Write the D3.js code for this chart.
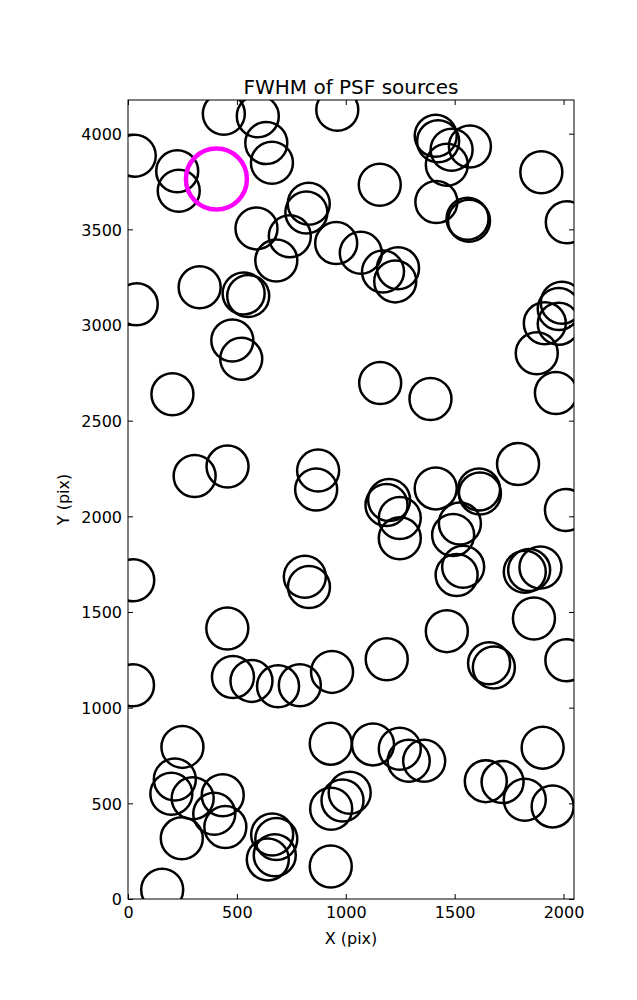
<!DOCTYPE html>
<html>
<head>
<meta charset="utf-8">
<script src="https://cdn.jsdelivr.net/npm/d3@7"></script>
<style>
  body { margin: 0; background: #fff; }
  text { font-family: "DejaVu Sans", sans-serif; fill: #000; }
</style>
</head>
<body>
<svg id="chart" width="637" height="1000"></svg>
<script>
// Source positions (pixel coordinates on detector)
const srcX = [31,226,233,440,596,635,661,830,819,590,743,681,956,1069,329,531,552,40,479,520,
  961,1413,1424,1570,1486,1464,1156,1416,1559,1566,1898,2015,1171,1240,1227,1992,1978,1914,1978,1877,
  1158,204,306,457,873,864,24,812,831,456,1389,1965,1791,2011,1413,1612,1616,1199,1187,1248,
  1248,1524,1493,1539,1509,1822,1842,1894,1864,1464,1188,2013,23,482,567,689,789,937,250,931,
  215,199,297,435,396,447,247,662,681,642,674,157,931,933,985,1018,1658,1680,1125,1248,
  1289,1360,1904,1643,1720,1822,1950];
const srcY = [3885,3804,3702,4104,4091,3951,3848,3634,3588,3505,3464,3337,3428,3377,3197,3165,3152,3108,2919,2823,
  4125,3989,3960,3933,3916,3838,3733,3643,3555,3545,3798,3537,3279,3297,3228,3116,3084,3009,3006,2852,
  2697,2638,2211,2260,2239,2140,1666,1684,1631,1414,2613,2645,2273,2033,2146,2140,2119,2085,2059,1991,
  1885,1963,1902,1736,1693,1710,1719,1733,1466,1400,1253,1248,1117,1160,1140,1112,1117,1187,795,812,
  625,550,526,542,445,376,317,337,314,207,229,48,170,472,515,555,1232,1210,808,785,
  722,722,791,616,611,519,484];
// Highlighted source
const hiX = [406];
const hiY = [3763];

const xTicks = [0, 500, 1000, 1500, 2000];
const yTicks = [0, 500, 1000, 1500, 2000, 2500, 3000, 3500, 4000];
const xDomain = [0, 2048];
const yDomain = [0, 4176];

(function () {
const svg = d3.select("#chart");
const m = {left: 128, top: 100, right: 574, bottom: 899};
const W = m.right - m.left, H = m.bottom - m.top;

const x = d3.scaleLinear().domain(xDomain).range([0, W]);
const y = d3.scaleLinear().domain(yDomain).range([H, 0]);

const g = svg.append("g").attr("transform", `translate(${m.left},${m.top})`);

g.append("clipPath").attr("id", "clip").append("rect")
  .attr("width", W).attr("height", H);

const plot = g.append("g").attr("clip-path", "url(#clip)");

const pts = srcX.map((d, i) => ({x: d, y: srcY[i]}));
plot.selectAll("circle.src").data(pts).enter().append("circle")
  .attr("class", "src")
  .attr("cx", d => x(d.x)).attr("cy", d => y(d.y))
  .attr("r", 21)
  .attr("fill", "none").attr("stroke", "#000").attr("stroke-width", 2.5);

const hi = hiX.map((d, i) => ({x: d, y: hiY[i]}));
plot.selectAll("circle.hi").data(hi).enter().append("circle")
  .attr("class", "hi")
  .attr("cx", d => x(d.x)).attr("cy", d => y(d.y))
  .attr("r", 30.5)
  .attr("fill", "none").attr("stroke", "#ff00ff").attr("stroke-width", 4.5);

// axes (ticks inward, on all sides)
const tl = 5;
const fs = "16px";
const axB = g.append("g").attr("transform", `translate(0,${H})`)
  .call(d3.axisBottom(x).tickValues(xTicks).tickSize(-tl).tickPadding(8).tickFormat(d3.format("d")));
const axT = g.append("g")
  .call(d3.axisTop(x).tickValues(xTicks).tickSize(-tl).tickFormat(""));
const axL = g.append("g")
  .call(d3.axisLeft(y).tickValues(yTicks).tickSize(-tl).tickPadding(6).tickFormat(d3.format("d")));
const axR = g.append("g").attr("transform", `translate(${W},0)`)
  .call(d3.axisRight(y).tickValues(yTicks).tickSize(-tl).tickFormat(""));

[axB, axT, axL, axR].forEach(a => {
  a.select(".domain").remove();
  a.selectAll(".tick line").attr("stroke", "#000").attr("stroke-width", 1);
  a.selectAll("text").style("font-size", fs).style("font-family", "DejaVu Sans, sans-serif").attr("fill", "#000");
});
axL.selectAll("text").attr("dy", "0.36em");

g.append("rect").attr("width", W).attr("height", H)
  .attr("fill", "none").attr("stroke", "#000").attr("stroke-width", 1);

svg.append("text").attr("x", m.left + W / 2).attr("y", 94)
  .attr("text-anchor", "middle").style("font-size", "20px")
  .text("FWHM of PSF sources");

svg.append("text").attr("x", m.left + W / 2).attr("y", 944)
  .attr("text-anchor", "middle").style("font-size", "16px")
  .text("X (pix)");

svg.append("text").attr("transform", `translate(69,${m.top + H / 2}) rotate(-90)`)
  .attr("text-anchor", "middle").style("font-size", "16px")
  .text("Y (pix)");
})();
</script>
</body>
</html>
